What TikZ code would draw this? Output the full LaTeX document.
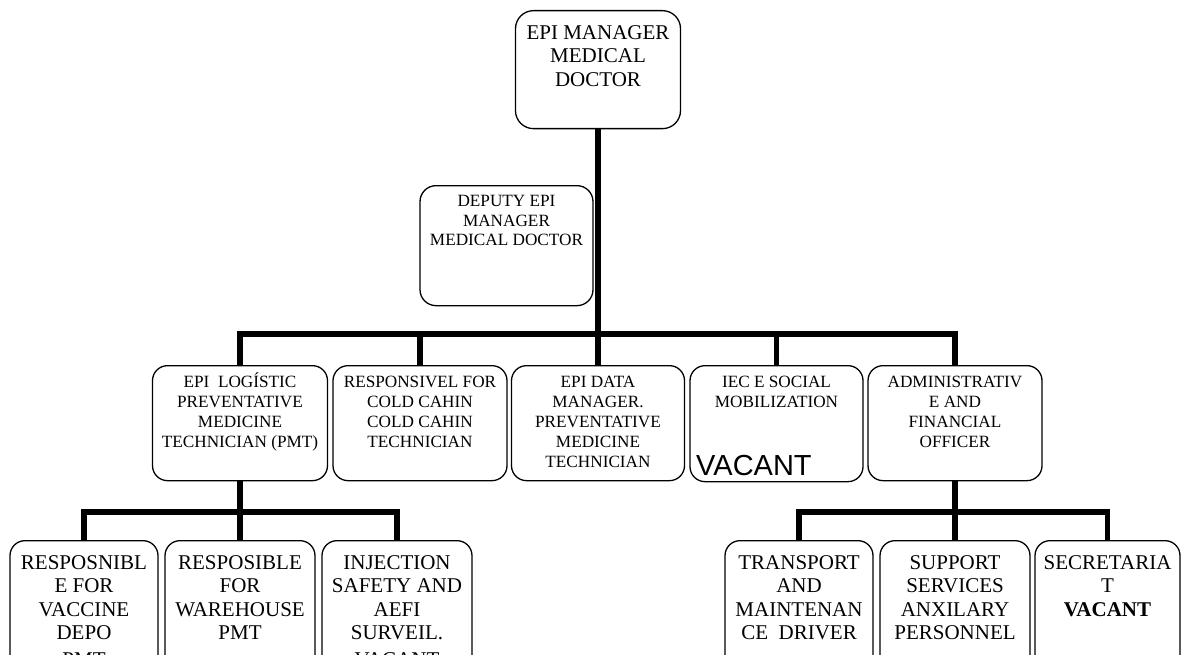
\documentclass[tikz,border=0pt]{standalone}
\usepackage{fontspec}
\setmainfont{Liberation Serif}
\newfontfamily\arialf{Liberation Sans}
\newcommand\tbox[6]{\parbox[c][#1][t]{#2}{\centering\fontsize{#3}{#4}\selectfont\vspace*{#5}\strut #6\par}}
\begin{document}
\begin{tikzpicture}[x=1pt,y=-1pt,
  box/.style={draw, line width=1.3pt, rounded corners=15pt, inner sep=0pt, anchor=north},
  conn/.style={line width=5.5pt, line join=miter}]
\useasboundingbox (0,0) rectangle (1182,655);
\clip (0,0) rectangle (1182,655);

% top
\node[box, rounded corners=18pt] (top) at (598,10) {\tbox{118pt}{165pt}{21}{23.5}{12pt}{EPI MANAGER\\MEDICAL\\DOCTOR}};
\node[box, rounded corners=16pt] (dep) at (506.5,185) {\tbox{120pt}{173pt}{17.2}{19.6}{7.4pt}{DEPUTY EPI\\MANAGER\\MEDICAL DOCTOR}};

% row 2
\node[box] (l2a) at (240,365) {\tbox{115pt}{175pt}{17.2}{20}{7.4pt}{EPI\ \ LOGÍSTIC\\PREVENTATIVE\\MEDICINE\\TECHNICIAN (PMT)}};
\node[box] (l2b) at (420,365) {\tbox{115pt}{174pt}{17.2}{20}{7.4pt}{RESPONSIVEL FOR\\COLD CAHIN\\COLD CAHIN\\TECHNICIAN}};
\node[box] (l2c) at (598,365) {\tbox{115pt}{173pt}{17.2}{20}{7.4pt}{EPI DATA\\MANAGER.\\PREVENTATIVE\\MEDICINE\\TECHNICIAN}};
\node[box] (l2d) at (776.5,365) {\tbox{116pt}{173pt}{17.2}{20}{7.4pt}{IEC E SOCIAL\\MOBILIZATION}};
\node[box] (l2e) at (955,365) {\tbox{115pt}{174pt}{17.2}{20}{7.4pt}{ADMINISTRATIV\\E AND\\FINANCIAL\\OFFICER}};
\node[anchor=base west, inner sep=0pt, font=\arialf\fontsize{29}{33}\selectfont] (iecv) at (696,475) {VACANT};

% row 3 left
\node[box] (l3a) at (84,540) {\tbox{130pt}{148pt}{21}{23.4}{12.5pt}{RESPOSNIBL\\E FOR\\VACCINE\\DEPO\\[3pt]PMT}};
\node[box] (l3b) at (240,540) {\tbox{130pt}{150pt}{21}{23.4}{12.5pt}{RESPOSIBLE\\FOR\\WAREHOUSE\\PMT}};
\node[box] (l3c) at (397,540) {\tbox{130pt}{150pt}{21}{23.4}{12.5pt}{INJECTION\\SAFETY AND\\AEFI\\SURVEIL.\\[3pt]VACANT}};

% row 3 right
\node[box] (r3a) at (799,540) {\tbox{130pt}{148pt}{21}{23.4}{12.5pt}{TRANSPORT\\AND\\MAINTENAN\\CE\ \ DRIVER}};
\node[box] (r3b) at (955,540) {\tbox{130pt}{150pt}{21}{23.4}{12.5pt}{SUPPORT\\SERVICES\\ANXILARY\\PERSONNEL}};
\node[box] (r3c) at (1107.5,540) {\tbox{130pt}{145pt}{21}{23.4}{12.5pt}{SECRETARIA\\T\\\textbf{VACANT}}};

% connectors
\coordinate (bar) at (598,334);
\coordinate (barL) at (240,512);
\coordinate (barR) at (955,512);
\draw[conn] (top.south) -- (l2c.north);
\draw[conn] (l2a.north) |- (bar) -| (l2e.north);
\draw[conn] (l2b.north) -- (l2b.north |- bar);
\draw[conn] (l2d.north) -- (l2d.north |- bar);
\draw[conn] (l2a.south) -- (l3b.north);
\draw[conn] (l3a.north) |- (barL) -| (l3c.north);
\draw[conn] (l2e.south) -- (r3b.north);
\draw[conn] (r3a.north) |- (barR) -| (r3c.north);
\end{tikzpicture}
\end{document}
